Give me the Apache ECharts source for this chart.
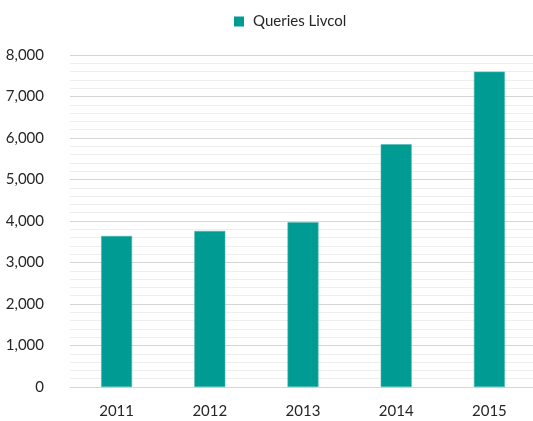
<!DOCTYPE html>
<html>
<head>
<meta charset="utf-8">
<script src="https://cdn.jsdelivr.net/npm/echarts@6/dist/echarts.min.js"></script>
<style>
  html,body{margin:0;padding:0;background:#fff;overflow:hidden}
  /* plot runs a few px past the right edge, like the cropped original */
  #main{width:536px;height:421px}
</style>
</head>
<body>
<div id="main"></div>
<script>
const years = ['2011', '2012', '2013', '2014', '2015']
const queries = [3640, 3760, 3970, 5850, 7600]
const seriesName = 'Queries Livcol'

const chart = echarts.init(document.getElementById('main'))
const font = 'Lato, "DejaVu Sans", sans-serif'

chart.setOption({
  animation: false,
  color: ['#009b93'],
  legend: {
    left: 229,
    top: 9,
    itemWidth: 10,
    itemHeight: 10,
    itemGap: 8,
    icon: 'rect',
    itemStyle: { borderWidth: 0 },
    textStyle: { fontFamily: font, fontSize: 15, color: '#262626', padding: [0, 0, 0, 4] },
    data: [seriesName]
  },
  grid: {
    left: 70,
    top: 55,
    right: 0,
    height: 332
  },
  xAxis: {
    type: 'category',
    data: years,
    axisLine: { lineStyle: { color: '#d6d6d6', width: 1 } },
    axisTick: { show: false },
    axisLabel: { margin: 17, fontFamily: font, fontSize: 15, color: '#262626' }
  },
  yAxis: {
    type: 'value',
    min: 0,
    max: 8000,
    interval: 1000,
    axisLine: { show: false },
    axisTick: { show: false },
    axisLabel: {
      margin: 26,
      fontFamily: font,
      fontSize: 15,
      color: '#262626',
      formatter: v => v.toLocaleString('en-US')
    },
    splitLine: { lineStyle: { color: '#d6d6d6', width: 1 } },
    minorTick: { show: false, splitNumber: 5 },
    minorSplitLine: { show: true, lineStyle: { color: '#eeeeee', width: 1 } }
  },
  series: [
    {
      name: seriesName,
      type: 'bar',
      barWidth: 31,
      data: queries,
      itemStyle: { borderColor: '#4db8b2', borderWidth: 0.6 }
    }
  ]
})
</script>
</body>
</html>
